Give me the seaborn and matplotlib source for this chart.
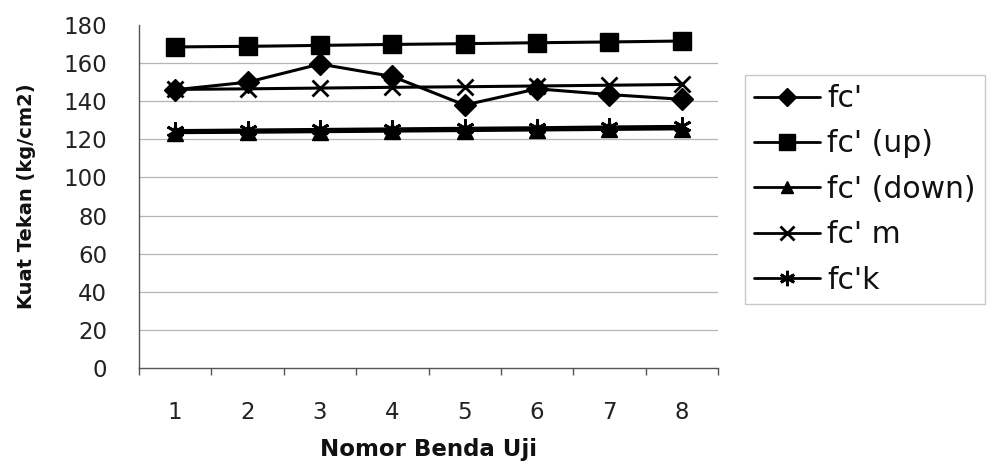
import matplotlib
matplotlib.use("Agg")
import matplotlib.pyplot as plt
import seaborn as sns
import pandas as pd
from matplotlib.lines import Line2D

# Specimen numbers and compressive strength series (kg/cm2)
specimens = [1, 2, 3, 4, 5, 6, 7, 8]
fc = [146, 150, 159.5, 153, 138, 146.5, 143.5, 141]
fc_up = [168.5, 168.8, 169.3, 169.8, 170.2, 170.7, 171.1, 171.6]
fc_down = [123.5, 123.7, 124.0, 124.3, 124.6, 124.9, 125.2, 125.5]
fc_m = [146.2, 146.5, 146.9, 147.3, 147.6, 148.0, 148.4, 148.8]
fc_k = [124.6, 124.9, 125.2, 125.5, 125.8, 126.1, 126.5, 126.8]

series_names = ["fc'", "fc' (up)", "fc' (down)", "fc' m", "fc'k"]
series_values = [fc, fc_up, fc_down, fc_m, fc_k]
y_ticks = [0, 20, 40, 60, 80, 100, 120, 140, 160, 180]

sns.set_theme(style="white")
plt.rcParams["font.family"] = ["DejaVu Sans"]

df = pd.DataFrame(
    [(s, x, v) for s, vals in zip(series_names, series_values) for x, v in zip(specimens, vals)],
    columns=["series", "specimen", "value"],
)

# marker, marker size, marker edge width per series
styles = {
    "fc'": ("D", 11, 1.0),
    "fc' (up)": ("s", 13.5, 1.0),
    "fc' (down)": ("^", 11, 1.0),
    "fc' m": ("x", 12, 2.0),
    "fc'k": ((6, 2, 0), 13, 2.0),
}

fig = plt.figure(figsize=(10.02, 4.70), dpi=100)
fig.patch.set_facecolor("white")
ax = fig.add_axes([139 / 1002, 1 - 368 / 470, (718 - 139) / 1002, (368 - 25) / 470])

for name in series_names:
    mk, ms, mew = styles[name]
    sub = df[df["series"] == name]
    sns.lineplot(
        data=sub, x="specimen", y="value", ax=ax, color="black",
        marker=mk, markersize=ms, markeredgewidth=mew,
        markeredgecolor="black", markerfacecolor="black",
        linewidth=2.2, legend=False,
    )

ax.set_xlim(0.5, 8.5)
ax.set_ylim(0, 180)
ax.set_yticks(y_ticks)
ax.set_xticks(specimens)
ax.set_xticks([i + 0.5 for i in range(0, 9)], minor=True)

ax.yaxis.grid(True, color="#b5b5b5", linewidth=0.9)
ax.get_ygridlines()[-1].set_visible(False)
ax.get_ygridlines()[0].set_visible(False)
ax.set_axisbelow(True)

for side in ["top", "right"]:
    ax.spines[side].set_visible(False)
for side in ["left", "bottom"]:
    ax.spines[side].set_color("#555555")
    ax.spines[side].set_linewidth(1.0)

ax.tick_params(axis="y", which="major", direction="out", length=5, width=1,
               color="#555555", labelsize=16.5, pad=18, labelcolor="#222222")
ax.tick_params(axis="x", which="major", length=0, labelsize=16.5, pad=24,
               labelcolor="#222222")
ax.tick_params(axis="x", which="minor", direction="out", length=5, width=1,
               color="#555555", bottom=True)

ax.set_xlabel("Nomor Benda Uji", fontsize=16.5, fontweight="bold", labelpad=10,
              color="#111111")
ax.set_ylabel("Kuat Tekan (kg/cm2)", fontsize=14, fontweight="bold", labelpad=20,
              color="#111111")

handles = []
for name in series_names:
    mk, ms, mew = styles[name]
    handles.append(Line2D([0], [0], color="black", linewidth=2.0, marker=mk,
                          markersize=ms * 0.85, markeredgewidth=mew,
                          markeredgecolor="black", markerfacecolor="black"))

leg = fig.legend(
    handles, series_names, loc="upper left",
    bbox_to_anchor=(745 / 1002, 1 - 75 / 470),
    fontsize=21.5, frameon=True, fancybox=False, edgecolor="#bbbbbb",
    handlelength=2.2, handletextpad=0.25, labelspacing=0.55,
    borderpad=0.3, borderaxespad=0,
)
leg.get_frame().set_linewidth(1.0)
for t in leg.get_texts():
    t.set_color("#111111")

fig.savefig("out.png", dpi=100, facecolor="white")
